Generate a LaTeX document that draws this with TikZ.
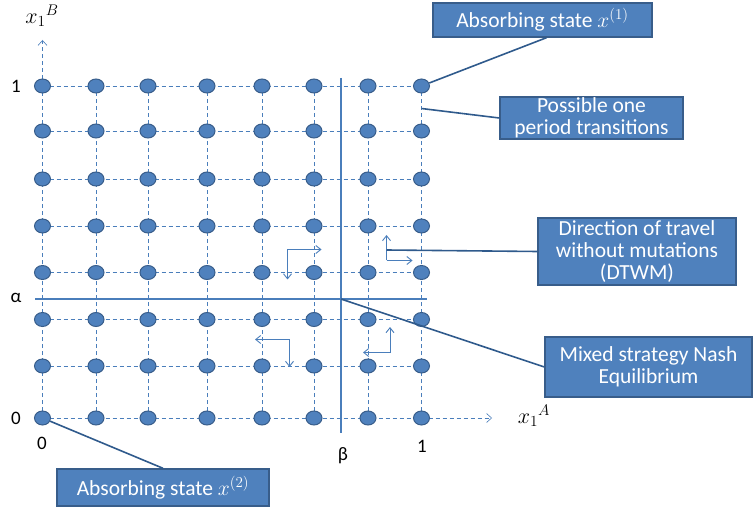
\documentclass[tikz,border=0pt]{standalone}
\usepackage{fix-cm}
\usepackage{fontspec}
\setmainfont{Carlito}
\usetikzlibrary{calc,positioning,arrows.meta}
\definecolor{dotblue}{HTML}{4F81BD}
\definecolor{dotedge}{HTML}{385D8A}
\definecolor{leaderblue}{HTML}{2F5A8C}
\definecolor{gridblue}{HTML}{4A7EBB}
\tikzset{
  statedot/.style={ellipse, fill=dotblue, draw=dotedge, line width=1pt,
    minimum width=16pt, minimum height=14pt, inner sep=0pt},
  gridline/.style={gridblue, dashed, dash pattern=on 4pt off 3pt, line width=0.6pt},
  thresh/.style={gridblue, line width=2.4pt},
  dirarrow/.style={gridblue, line width=0.9pt, -{Straight Barb[length=5pt,width=8pt]}},
  leader/.style={leaderblue, line width=1.6pt},
  callout/.style={fill=dotblue, draw=dotedge, line width=1.4pt, text=white,
    font=\fontsize{21.5}{22}\selectfont, align=center, inner sep=1pt},
  ticklabel/.style={font=\fontsize{19}{21}\selectfont},
  axislabel/.style={font=\fontsize{22}{24}\selectfont}
}
\usetikzlibrary{shapes.geometric}
\begin{document}
\begin{tikzpicture}[x=1pt,y=-1pt]
  \useasboundingbox (0,0) rectangle (756,508);
  \foreach \x [count=\i] in {42.5,96,148,207,262,314,368,421.5}
    \foreach \y [count=\j] in {418,366,319.5,272.5,226,179,131,86}
      \coordinate (p-\i-\j) at (\x,\y);
  \coordinate (xend) at (492,418);
  \coordinate (yend) at (42.5,40);
  \foreach \k in {1,...,8} {
    \draw[gridline] (p-1-\k) -- (p-8-\k);
    \draw[gridline] (p-\k-1) -- (p-\k-8);
  }
  \draw[gridline, -{Straight Barb[length=5pt,width=9pt]}] (p-8-1) -- (xend);
  \draw[gridline, -{Straight Barb[length=5pt,width=9pt]}] (p-1-8) -- (yend);
  \coordinate (beta-top) at (341,78);
  \coordinate (beta-bot) at (341,433);
  \coordinate (alpha-l) at (35,299);
  \coordinate (alpha-r) at (427,299);
  \coordinate (ne) at (341,299);
  \draw[thresh] (beta-top) -- (beta-bot);
  \draw[thresh] (alpha-l) -- (alpha-r);
  \foreach \i in {1,...,8}
    \foreach \j in {1,...,8}
      \node[statedot] (d-\i-\j) at (p-\i-\j) {};
  \coordinate (c1) at (287.5,249.5);
  \draw[dirarrow] (c1) -- (321.5,249.5);
  \draw[dirarrow] (c1) -- (287.5,279.5);
  \coordinate (c2) at (386.5,260.5);
  \draw[dirarrow] (c2) -- (386.5,235);
  \draw[dirarrow] (c2) -- (412.5,260.5);
  \coordinate (c3) at (289.5,339.5);
  \draw[dirarrow] (c3) -- (255,339.5);
  \draw[dirarrow] (c3) -- (289.5,367);
  \coordinate (c4) at (390,352.5);
  \draw[dirarrow] (c4) -- (390,327);
  \draw[dirarrow] (c4) -- (363,352.5);
  \node[callout, minimum width=219pt, minimum height=34pt] (abs1) at (542.5,20) {Absorbing state $x^{(1)}$};
  \node[callout, minimum width=183pt, minimum height=41pt] (poss) at (591.5,118) {Possible one\\period transitions};
  \node[callout, minimum width=198pt, minimum height=67pt] (dtwm) at (637,251.5) {Direction of travel\\without mutations\\(DTWM)};
  \node[callout, minimum width=207pt, minimum height=60pt] (nash) at (648.5,367) {Mixed strategy Nash\\Equilibrium};
  \node[callout, minimum width=212pt, minimum height=37pt] (abs2) at (163,487.5) {Absorbing state $x^{(2)}$};
  \coordinate (trans) at ($(p-8-8)!0.5!(p-8-7)$);
  \coordinate (dtwm-start) at (386.5,250);
  \draw[leader] (d-8-8) -- ($(abs1.south)+(4,0)$);
  \draw[leader] (trans) -- (poss.west);
  \draw[leader] (dtwm-start) -- (dtwm.west);
  \draw[leader] (ne) -- (nash.west);
  \draw[leader] (d-1-1) -- (abs2.north);
  \node[axislabel] (lab-yb) at (42,16) {$x_1{}^{B}$};
  \node[axislabel] (lab-xa) at (534,416) {$x_1{}^{A}$};
  \node[ticklabel] (lab-y1) at (16,86) {1};
  \node[ticklabel] (lab-al) at (16,298) {α};
  \node[ticklabel] (lab-y0) at (16,418) {0};
  \node[ticklabel] (lab-x0) at (42,443) {0};
  \node[ticklabel] (lab-be) at (343,456) {β};
  \node[ticklabel] (lab-x1) at (422,446) {1};
\end{tikzpicture}
\end{document}
